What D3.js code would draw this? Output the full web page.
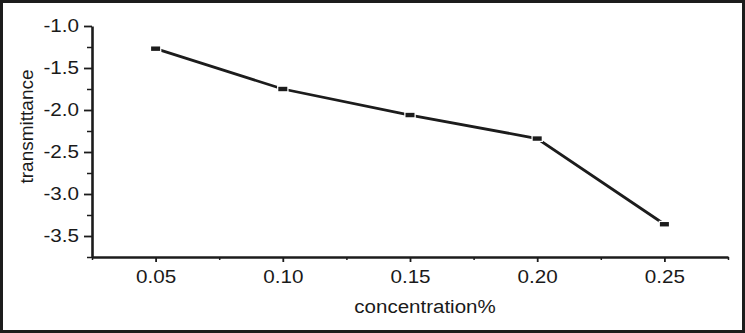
<!DOCTYPE html>
<html>
<head>
<meta charset="utf-8">
<script src="https://cdn.jsdelivr.net/npm/d3@7/dist/d3.min.js"></script>
<style>
  html, body { margin: 0; padding: 0; background: #fff; }
  svg { display: block; }
  text { font-family: "Liberation Sans", Arial, Helvetica, sans-serif; fill: #1a1a1a; }
</style>
</head>
<body>
<svg id="chart" width="745" height="333"></svg>
<script>
const concentrations = [0.05, 0.10, 0.15, 0.20, 0.25];
const transmittance = [-1.27, -1.75, -2.06, -2.34, -3.36];
const xTickValues = [0.05, 0.10, 0.15, 0.20, 0.25];
const xTickLabels = ["0.05", "0.10", "0.15", "0.20", "0.25"];
const xMinorTicks = [0.025, 0.075, 0.125, 0.175, 0.225, 0.275];
const yTickValues = [-1.0, -1.5, -2.0, -2.5, -3.0, -3.5];
const yTickLabels = ["-1.0", "-1.5", "-2.0", "-2.5", "-3.0", "-3.5"];
const yMinorTicks = [-1.25, -1.75, -2.25, -2.75, -3.25, -3.75];
const xTitle = "concentration%";
const yTitle = "transmittance";

const W = 745, H = 333;
const svg = d3.select("#chart");
const ink = "#1c1c1c";
const stretch = 1.18;   // the reference text is drawn horizontally widened

// outer frame
svg.append("rect").attr("x", 1.5).attr("y", 1.5).attr("width", W - 3).attr("height", H - 3)
  .attr("fill", "#fff").attr("stroke", ink).attr("stroke-width", 3);

const x = d3.scaleLinear().domain([0.025, 0.275]).range([92, 728]);
const y = d3.scaleLinear().domain([-3.75, -1.0]).range([257, 26]);

// minor ticks
const xMinor = svg.append("g").attr("transform", `translate(0,${y(-3.75)})`)
  .call(d3.axisBottom(x).tickValues(xMinorTicks).tickSize(3).tickFormat(""));
const yMinor = svg.append("g").attr("transform", `translate(${x(0.025)},0)`)
  .call(d3.axisLeft(y).tickValues(yMinorTicks).tickSize(5).tickFormat(""));
[xMinor, yMinor].forEach(g => {
  g.select(".domain").remove();
  g.selectAll("line").attr("stroke", ink).attr("stroke-width", 1.5);
});

// major axes
const xAxis = svg.append("g").attr("transform", `translate(0,${y(-3.75)})`)
  .call(d3.axisBottom(x).tickValues(xTickValues).tickSize(5).tickPadding(8.5)
    .tickFormat((d, i) => xTickLabels[i]).tickSizeOuter(0));
const yAxis = svg.append("g").attr("transform", `translate(${x(0.025)},0)`)
  .call(d3.axisLeft(y).tickValues(yTickValues).tickSize(8).tickPadding(5)
    .tickFormat((d, i) => yTickLabels[i]).tickSizeOuter(0));
[xAxis, yAxis].forEach(g => {
  g.select(".domain").attr("stroke", ink).attr("stroke-width", 2.6);
  g.selectAll(".tick line").attr("stroke", ink).attr("stroke-width", 1.8);
  g.selectAll("text").attr("fill", ink)
    .attr("font-family", '"Liberation Sans", Arial, sans-serif')
    .attr("font-size", 17.5);
});
xAxis.selectAll(".tick text").attr("transform", `scale(${stretch},1)`);
yAxis.selectAll(".tick text").each(function () {
  const t = d3.select(this);
  const x0 = +t.attr("x");
  t.attr("x", x0 / stretch).attr("transform", `scale(${stretch},1)`);
});

// titles
svg.append("text").attr("transform", `translate(425,313) scale(1.08,1)`)
  .attr("text-anchor", "middle").attr("font-size", 19).text(xTitle);
svg.append("text").attr("transform", `translate(33,126.5) rotate(-90)`)
  .attr("text-anchor", "middle").attr("font-size", 19).text(yTitle);

// line
const pts = concentrations.map((c, i) => [c, transmittance[i]]);
svg.append("path").datum(pts)
  .attr("fill", "none").attr("stroke", ink).attr("stroke-width", 2.8)
  .attr("stroke-linejoin", "miter")
  .attr("d", d3.line().x(d => x(d[0])).y(d => y(d[1])));

// markers with white halo (gap)
svg.append("g").selectAll("rect").data(pts).join("rect")
  .attr("x", d => x(d[0]) - 4.5).attr("y", d => y(d[1]) - 2.2)
  .attr("width", 9).attr("height", 4.4)
  .attr("fill", ink).attr("stroke", "#fff").attr("stroke-width", 2.5)
  .attr("paint-order", "stroke");
</script>
</body>
</html>
